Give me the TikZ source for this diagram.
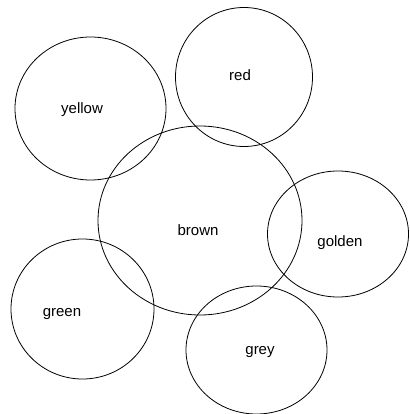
\documentclass[tikz,border=0pt]{standalone}
\usepackage{fontspec}
\setmainfont{Liberation Sans}
\usetikzlibrary{shapes.geometric}
\begin{document}
\begin{tikzpicture}[x=1pt,y=-1pt,
  blob/.style={draw, ellipse, inner sep=0pt, line width=0.8pt},
  lbl/.style={font=\fontsize{15}{15}\selectfont, inner sep=0pt}]
\useasboundingbox (0,0) rectangle (409,414);
\node[blob, minimum width=151pt, minimum height=143pt] (yellow) at (90.5,108.5) {};
\node[blob, minimum width=137pt, minimum height=139pt] (red) at (244,77) {};
\node[blob, minimum width=204pt, minimum height=189pt] (brown) at (200,220.5) {};
\node[blob, minimum width=141pt, minimum height=126pt] (golden) at (338,234) {};
\node[blob, minimum width=143pt, minimum height=140pt] (green) at (82.5,309) {};
\node[blob, minimum width=141pt, minimum height=128pt] (grey) at (256.5,350) {};
\node[lbl] (tyellow) at (82,110) {yellow};
\node[lbl] (tred) at (240,75) {red};
\node[lbl] (tbrown) at (198,230) {brown};
\node[lbl] (tgolden) at (340,243) {golden};
\node[lbl] (tgreen) at (62,314) {green};
\node[lbl] (tgrey) at (260,352) {grey};
\end{tikzpicture}
\end{document}
